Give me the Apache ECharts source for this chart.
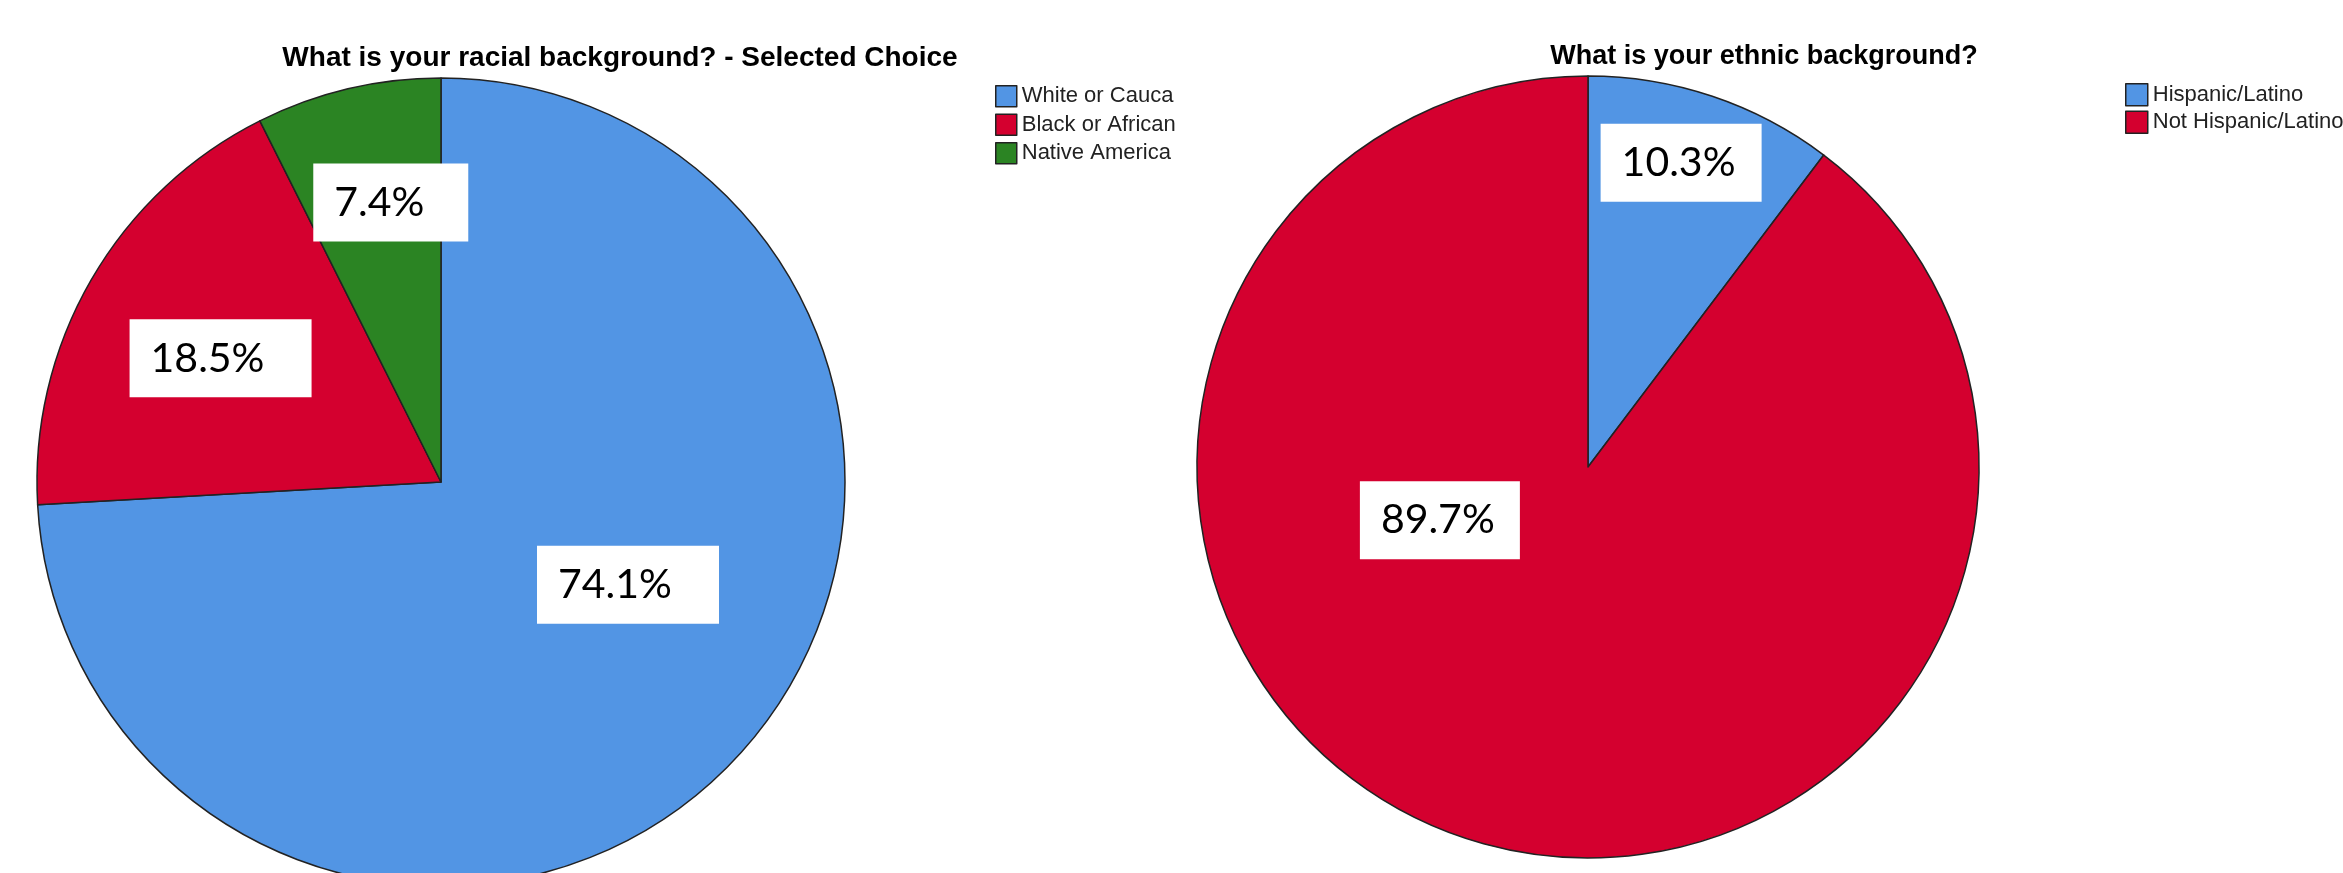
<!DOCTYPE html>
<html>
<head>
<meta charset="utf-8">
<title>Racial and ethnic background</title>
<script src="https://cdn.jsdelivr.net/npm/echarts@6/dist/echarts.min.js"></script>
<style>
  html, body { margin: 0; padding: 0; background: #fff; }
  #chart { width: 2343px; height: 873px; }
</style>
</head>
<body>
<div id="chart"></div>
<script>
// Survey responses, shares in percent
const raceCategories = ['White or Caucasian', 'Black or African American', 'Native American'];
const raceValues = [74.1, 18.5, 7.4];

const ethnicCategories = ['Hispanic/Latino', 'Not Hispanic/Latino'];
const ethnicValues = [10.3, 89.7];

const raceTitle = 'What is your racial background? - Selected Choice';
const ethnicTitle = 'What is your ethnic background?';

// Slice colours
const raceColors = ['#5295E4', '#D4002F', '#2B8423'];
const ethnicColors = ['#5295E4', '#D4002F'];

// Nudges of each percentage box away from the slice centre (px)
const raceLabelShift = [[38, -38], [-43, -21], [-3, -80]];
const ethnicLabelShift = [[30, -116], [-85, -135]];
// Widths of the white percentage boxes (px)
const raceLabelWidth = [182, 182, 155];
const ethnicLabelWidth = [161, 160];

const sliceBorder = { borderColor: '#222', borderWidth: 1.5 };
const boxPadLeft = 21;

const labelStyle = {
  show: true,
  position: 'inside',
  formatter: p => '{v|' + p.value.toFixed(1) + '%}',
  backgroundColor: '#fff',
  padding: [17, 0, 17, boxPadLeft],
  rich: {
    v: {
      align: 'left',
      fontFamily: 'Lato, "Open Sans", sans-serif',
      fontSize: 41,
      lineHeight: 44,
      color: '#000'
    }
  }
};

function buildData(names, values, colors, shifts, widths) {
  return names.map((name, i) => ({
    name: name,
    value: values[i],
    itemStyle: Object.assign({ color: colors[i] }, sliceBorder),
    label: { offset: shifts[i], width: widths[i] - boxPadLeft }
  }));
}

const legendText = {
  fontFamily: '"Liberation Sans", Arial, sans-serif',
  fontSize: 22,
  lineHeight: 22,
  color: '#222'
};

function titleText(size) {
  return {
    fontFamily: '"Liberation Sans", Arial, sans-serif',
    fontWeight: 'bold',
    fontSize: size,
    color: '#000'
  };
}

const chart = echarts.init(document.getElementById('chart'), null, { renderer: 'canvas' });

chart.setOption({
  animation: false,
  backgroundColor: '#fff',
  title: [
    { text: raceTitle, left: 615, top: 39, textAlign: 'center', textStyle: titleText(28) },
    { text: ethnicTitle, left: 1759, top: 38, textAlign: 'center', textStyle: titleText(27) }
  ],
  legend: [
    {
      seriesIndex: 0,
      data: raceCategories,
      orient: 'vertical',
      left: 990,
      top: 80,
      itemWidth: 21,
      itemHeight: 21,
      itemGap: 6,
      icon: 'rect',
      selectedMode: false,
      itemStyle: { borderColor: '#222', borderWidth: 1.5 },
      textStyle: Object.assign({ width: 157, overflow: 'truncate', ellipsis: '' }, legendText)
    },
    {
      seriesIndex: 1,
      data: ethnicCategories,
      orient: 'vertical',
      left: 2120,
      top: 78,
      itemWidth: 22,
      itemHeight: 22,
      itemGap: 4,
      icon: 'rect',
      selectedMode: false,
      itemStyle: { borderColor: '#222', borderWidth: 1.5 },
      textStyle: legendText
    }
  ],
  series: [
    {
      type: 'pie',
      name: 'race',
      center: [441, 482],
      radius: 404,
      startAngle: 90,
      clockwise: true,
      avoidLabelOverlap: false,
      silent: true,
      label: labelStyle,
      labelLine: { show: false },
      data: buildData(raceCategories, raceValues, raceColors, raceLabelShift, raceLabelWidth)
    },
    {
      type: 'pie',
      name: 'ethnicity',
      center: [1588, 467],
      radius: 391,
      startAngle: 90,
      clockwise: true,
      avoidLabelOverlap: false,
      silent: true,
      label: labelStyle,
      labelLine: { show: false },
      data: buildData(ethnicCategories, ethnicValues, ethnicColors, ethnicLabelShift, ethnicLabelWidth)
    }
  ]
});
</script>
</body>
</html>
